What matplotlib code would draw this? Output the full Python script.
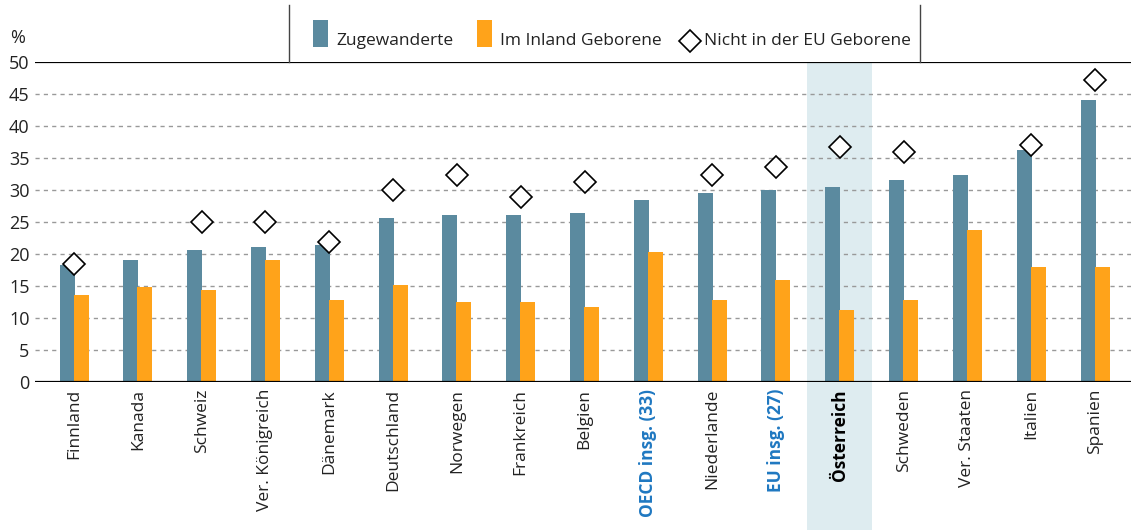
import matplotlib
matplotlib.use("Agg")
import matplotlib.pyplot as plt
from matplotlib.lines import Line2D
from matplotlib.patches import Rectangle
import numpy as np

plt.rcParams['font.family'] = ['Open Sans', 'DejaVu Sans']

categories = ["Finnland", "Kanada", "Schweiz", "Ver. Königreich", "Dänemark", "Deutschland",
              "Norwegen", "Frankreich", "Belgien", "OECD insg. (33)", "Niederlande",
              "EU insg. (27)", "Österreich", "Schweden", "Ver. Staaten", "Italien", "Spanien"]
zugewanderte = [18.3, 19.1, 20.6, 21.1, 21.4, 25.7, 26.1, 26.1, 26.4, 28.5, 29.6, 30.0, 30.4,
                31.6, 32.4, 36.2, 44.0]
inland = [13.6, 14.8, 14.4, 19.1, 12.8, 15.2, 12.5, 12.5, 11.7, 20.3, 12.8, 15.9, 11.2,
          12.8, 23.8, 18.0, 18.0]
nicht_eu = [18.4, None, 25.0, 25.0, 21.9, 30.0, 32.4, 28.9, 31.3, None, 32.4, 33.6, 36.7,
            35.9, None, 37.1, 47.2]
yticks = [0, 5, 10, 15, 20, 25, 30, 35, 40, 45, 50]
legend_labels = ["Zugewanderte", "Im Inland Geborene", "Nicht in der EU Geborene"]

BLUE = "#5b8a9f"
ORANGE = "#ffa31a"
HIGHLIGHT = "#deecf0"
LABELBLUE = "#1f78c1"
TXT = "#222222"

W, H = 1131, 530
fig = plt.figure(figsize=(W / 100, H / 100), dpi=100)
ax = fig.add_axes([35/W, 1-382/H, 1-35/W, 320/H])

x = np.arange(len(categories))
n = len(categories)
step_px = (1095 - 74) / (n - 1)
w = 15 / step_px
off = 7 / step_px

ax.set_xlim(-(74 - 35) / step_px, (W - 74) / step_px)
ax.set_ylim(0, 50)

# highlight band for Österreich (extends down through label area)
hi = categories.index("Österreich")
bw = 65 / step_px
ax.add_patch(Rectangle((hi - bw / 2, -0.6), bw, 1.6, transform=ax.get_xaxis_transform(),
                       facecolor=HIGHLIGHT, edgecolor='none', zorder=0, clip_on=False))

for yv in yticks[1:-1]:
    ax.axhline(yv, color="#999999", lw=1.0, ls=(0, (3, 3)), zorder=1)
ax.axhline(50, color="black", lw=1.6, zorder=3)
ax.axhline(0, color="black", lw=1.6, zorder=3)

ax.bar(x - off, zugewanderte, width=w, color=BLUE, zorder=2)
ax.bar(x + off, inland, width=w, color=ORANGE, zorder=2)
xs = [xi for xi, v in zip(x, nicht_eu) if v is not None]
vs = [v for v in nicht_eu if v is not None]
ax.plot(xs, vs, ls='none', marker='D', ms=11, mfc='white', mec='black', mew=1.2, zorder=4)

for s in ax.spines.values():
    s.set_visible(False)
ax.set_yticks(yticks)
ax.set_yticklabels([str(v) for v in yticks], fontsize=13, color=TXT)
ax.tick_params(axis='y', length=0, pad=4)
ax.set_xticks(x)
ax.set_xticklabels(categories, rotation=90, fontsize=12.5, va='top', ha='center', color=TXT)
ax.tick_params(axis='x', length=0, pad=5)
for lbl in ax.get_xticklabels():
    t = lbl.get_text()
    if t in ("OECD insg. (33)", "EU insg. (27)"):
        lbl.set_color(LABELBLUE)
        lbl.set_fontweight('bold')
    elif t == "Österreich":
        lbl.set_fontweight('bold')
        lbl.set_color("black")

fig.text(18/W, 1-38/H, "%", fontsize=13, ha='center', va='center', color=TXT)

# legend separators
for xp in (289, 920):
    fig.add_artist(Line2D([xp/W, xp/W], [1-5/H, 1-62/H], color="#444444", lw=1.0))

# manual legend
ly = 1 - 41/H
fig.add_artist(Rectangle((313/W, 1-47/H), 15/W, 27/H, transform=fig.transFigure,
                         facecolor=BLUE, edgecolor='none'))
fig.text(336/W, ly, legend_labels[0], fontsize=12.5, ha='left', va='center', color=TXT)
fig.add_artist(Rectangle((477/W, 1-47/H), 15/W, 27/H, transform=fig.transFigure,
                         facecolor=ORANGE, edgecolor='none'))
fig.text(500/W, ly, legend_labels[1], fontsize=12.5, ha='left', va='center', color=TXT)
fig.add_artist(Line2D([690/W], [ly], ls='none', marker='D', ms=11, mfc='white', mec='black',
                      mew=1.2, transform=fig.transFigure))
fig.text(704/W, ly, legend_labels[2], fontsize=12.5, ha='left', va='center', color=TXT)

fig.savefig("out.png", dpi=100)
